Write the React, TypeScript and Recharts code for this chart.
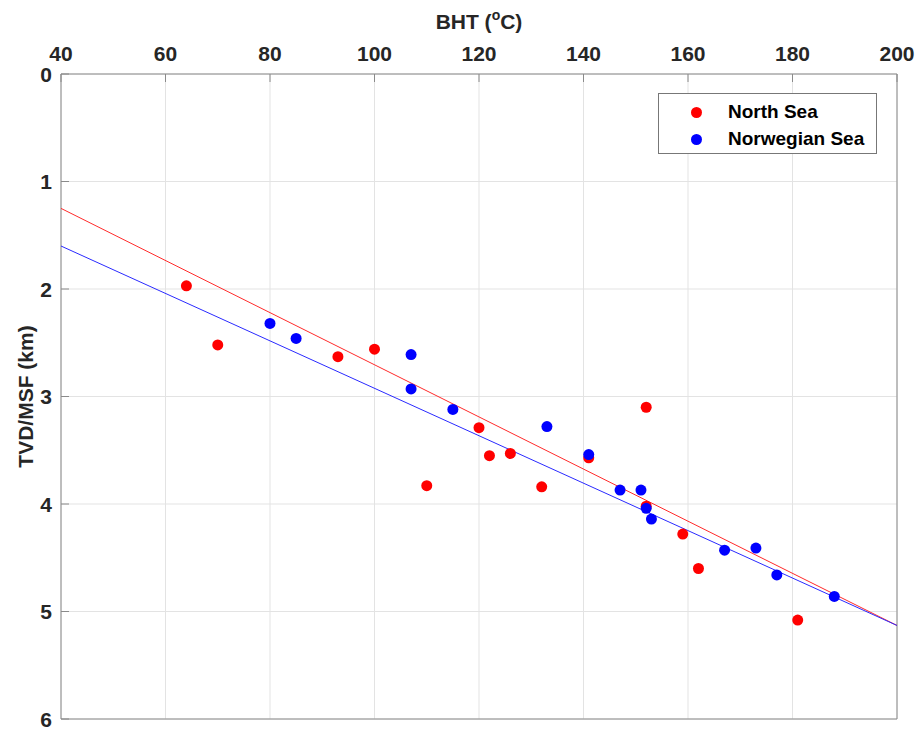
import React from 'react';
import { ScatterChart, Scatter, XAxis, YAxis, CartesianGrid, Legend } from 'recharts';

const northSea = [
  { x: 64, y: 1.97 }, { x: 70, y: 2.52 }, { x: 93, y: 2.63 }, { x: 100, y: 2.56 },
  { x: 110, y: 3.83 }, { x: 120, y: 3.29 }, { x: 122, y: 3.55 }, { x: 126, y: 3.53 },
  { x: 132, y: 3.84 }, { x: 141, y: 3.57 }, { x: 152, y: 3.10 }, { x: 152, y: 4.02 },
  { x: 159, y: 4.28 }, { x: 162, y: 4.60 }, { x: 181, y: 5.08 },
];
const norwegianSea = [
  { x: 80, y: 2.32 }, { x: 85, y: 2.46 }, { x: 107, y: 2.61 }, { x: 107, y: 2.93 },
  { x: 115, y: 3.12 }, { x: 133, y: 3.28 }, { x: 141, y: 3.54 }, { x: 147, y: 3.87 },
  { x: 151, y: 3.87 }, { x: 152, y: 4.04 }, { x: 153, y: 4.14 }, { x: 167, y: 4.43 },
  { x: 173, y: 4.41 }, { x: 177, y: 4.66 }, { x: 188, y: 4.86 },
];
const northSeaFit = [{ x: 40, y: 1.25 }, { x: 200, y: 5.13 }];
const norwegianSeaFit = [{ x: 40, y: 1.60 }, { x: 200, y: 5.13 }];
const xTicks = [40, 60, 80, 100, 120, 140, 160, 180, 200];
const yTicks = [0, 1, 2, 3, 4, 5, 6];

const W = 919, H = 731;
const LEFT = 61, RIGHT = 897, TOP = 74, BOTTOM = 719;
const AXIS = '#8a8a8a';
const TXT = '#262626';
const FONT = '"Liberation Sans", Arial, sans-serif';

const TopTick = (p: any) => (
  <g>
    <line x1={p.x} x2={p.x} y1={TOP} y2={TOP + 8} stroke={AXIS} strokeWidth={1} />
    <text x={p.x} y={61} textAnchor="middle" fontSize={21} fontWeight="bold" fill={TXT} fontFamily={FONT}>
      {p.payload.value}
    </text>
  </g>
);
const BottomTick = (p: any) => (
  <line x1={p.x} x2={p.x} y1={BOTTOM} y2={BOTTOM - 8} stroke={AXIS} strokeWidth={1} />
);
const LeftTick = (p: any) => (
  <g>
    <line x1={LEFT} x2={LEFT + 8} y1={p.y} y2={p.y} stroke={AXIS} strokeWidth={1} />
    <text x={52} y={p.y + 7.5} textAnchor="end" fontSize={21} fontWeight="bold" fill={TXT} fontFamily={FONT}>
      {p.payload.value}
    </text>
  </g>
);
const RightTick = (p: any) => (
  <line x1={RIGHT} x2={RIGHT - 8} y1={p.y} y2={p.y} stroke={AXIS} strokeWidth={1} />
);

const Dot = (color: string) => (p: any) => <circle cx={p.cx} cy={p.cy} r={5.5} fill={color} />;
const NoShape = () => null;

const LegendBox = () => (
  <div style={{
    width: 219, height: 61, border: '1px solid #777', background: '#fff', boxSizing: 'border-box',
    fontFamily: FONT, fontWeight: 'bold', fontSize: 19, color: '#000', position: 'relative',
  }}>
    {[{ c: '#ff0000', t: 'North Sea', y: 18 }, { c: '#0000ff', t: 'Norwegian Sea', y: 45 }].map((r) => (
      <div key={r.t} style={{ position: 'absolute', left: 0, top: r.y - 12, height: 24, display: 'flex', alignItems: 'center' }}>
        <span style={{ display: 'inline-block', width: 11, height: 11, borderRadius: '50%', background: r.c, marginLeft: 32 }} />
        <span style={{ marginLeft: 26, whiteSpace: 'nowrap' }}>{r.t}</span>
      </div>
    ))}
  </div>
);

export default function App() {
  return (
    <div style={{ position: 'absolute', left: 0, top: 0, width: W, height: H, background: '#fff' }}>
      <ScatterChart width={W} height={H} margin={{ top: 0, right: 0, bottom: 0, left: 0 }}>
        <CartesianGrid xAxisId="top" yAxisId="left" stroke="#e3e3e3" strokeWidth={1} />
        <XAxis xAxisId="top" orientation="top" type="number" dataKey="x" domain={[40, 200]} ticks={xTicks}
          height={TOP} axisLine={{ stroke: AXIS }} tickLine={false} tick={TopTick} allowDataOverflow />
        <XAxis xAxisId="bottom" orientation="bottom" type="number" dataKey="x" domain={[40, 200]} ticks={xTicks}
          height={H - BOTTOM} axisLine={{ stroke: AXIS }} tickLine={false} tick={BottomTick} />
        <YAxis yAxisId="left" orientation="left" type="number" dataKey="y" domain={[0, 6]} ticks={yTicks} reversed
          width={LEFT} axisLine={{ stroke: AXIS }} tickLine={false} tick={LeftTick} allowDataOverflow />
        <YAxis yAxisId="right" orientation="right" type="number" dataKey="y" domain={[0, 6]} ticks={yTicks} reversed
          width={W - RIGHT} axisLine={{ stroke: AXIS }} tickLine={false} tick={RightTick} />
        <Scatter name="North Sea fit" data={northSeaFit} xAxisId="top" yAxisId="left" line={{ stroke: '#ff2a2a', strokeWidth: 1 }}
          shape={NoShape} legendType="none" isAnimationActive={false} />
        <Scatter name="Norwegian Sea fit" data={norwegianSeaFit} xAxisId="top" yAxisId="left" line={{ stroke: '#2a2aff', strokeWidth: 1 }}
          shape={NoShape} legendType="none" isAnimationActive={false} />
        <Scatter name="North Sea" data={northSea} xAxisId="top" yAxisId="left" fill="#ff0000"
          shape={Dot('#ff0000')} isAnimationActive={false} />
        <Scatter name="Norwegian Sea" data={norwegianSea} xAxisId="top" yAxisId="left" fill="#0000ff"
          shape={Dot('#0000ff')} isAnimationActive={false} />
        <Legend content={LegendBox} layout="horizontal" verticalAlign="middle" align="center"
          wrapperStyle={{ position: 'absolute', left: 658, top: 93, width: 219, height: 61 }} />
        <text x={(LEFT + RIGHT) / 2} y={29} textAnchor="middle" fontSize={21} fontWeight="bold" fill={TXT} fontFamily={FONT}>
          BHT (<tspan fontSize={14} dy={-9}>o</tspan><tspan dy={9}>C)</tspan>
        </text>
        <text x={33} y={(TOP + BOTTOM) / 2} transform={`rotate(-90 33 ${(TOP + BOTTOM) / 2})`} textAnchor="middle"
          fontSize={21} fontWeight="bold" fill={TXT} fontFamily={FONT}>
          TVD/MSF (km)
        </text>
      </ScatterChart>
    </div>
  );
}
